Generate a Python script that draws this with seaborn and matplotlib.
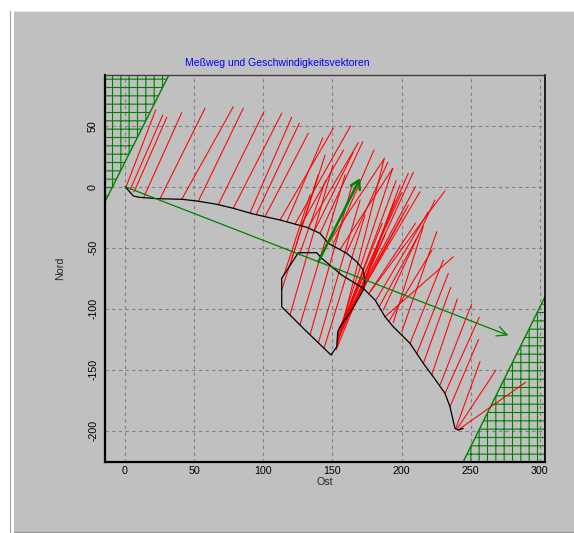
import matplotlib
matplotlib.use('Agg')
import matplotlib.pyplot as plt
import seaborn as sns
from matplotlib.patches import Rectangle
from matplotlib.lines import Line2D

# Messweg (Ost, Nord) in m
track_x = [0, 6.0, 10.3, 23.0, 41.0, 51.8, 66.3, 78.3, 92.8, 112.1, 131.4, 141.0,
           147.0, 160.3, 167.5, 172.3, 173.5, 172.3, 163.9, 155.5, 153.8, 153.1,
           148.9, 130.1, 113.3, 113.3, 125.3, 138.6, 142.2, 156.7, 172.3, 180.8,
           188.0, 194.0, 206.1, 210.9, 215.7, 222.9, 231.4, 235.0, 238.6, 241.0, 244.6]
track_y = [0, -7.6, -8.7, -9.8, -10.3, -11.7, -14.4, -17.7, -22.4, -27.3, -33.3, -38.2,
           -46.4, -54.6, -61.5, -68.3, -79.3, -84.7, -101.1, -114.8, -118.9, -131.2,
           -137.9, -117.4, -98.4, -75.1, -54.1, -54.1, -58.7, -72.4, -83.3, -92.9,
           -106.6, -114.8, -128.4, -136.6, -144.8, -155.8, -169.4, -180.4, -198.1, -199.5, -198.1]

# Geschwindigkeitsvektoren: Fusspunkt und Spitze
vec_x0 = [0.7, 3.6, 6.5, 13.7, 25.3, 41.0, 53.0, 67.5, 78.3, 90.4, 101.2, 112.1, 122.9,
          132.3, 141.0, 147.0, 155.5, 95.0, 117.0, 127.0, 137.0, 150.0, 160.0,
          113.3, 119.3, 126.5, 133.8, 139.8, 143.9, 119.0, 115.0, 126.0,
          153.3, 154.0, 156.2, 159.1, 166.3, 169.9, 152.6, 154.0, 156.9, 173.5, 177.2, 181.5, 188.0,
          153.5, 155.0, 160.0, 164.0, 158.0, 170.0, 153.2, 176.0, 184.0, 191.0,
          186.8, 194.0, 200.1, 206.1, 210.9, 215.7, 221.8, 227.8, 231.4, 235.0, 239.3, 240.1, 240.8]
vec_y0 = [-0.2, -2.7, -4.3, -8.2, -9.8, -10.3, -11.9, -14.6, -17.7, -21.5, -24.6, -27.3, -30.7,
          -33.8, -38.2, -46.4, -51.5, -22.5, -28.9, -32.0, -36.0, -48.5, -54.6,
          -84.7, -105.0, -113.2, -121.4, -128.0, -132.5, -65.1, -72.1, -56.0,
          -130.6, -121.6, -115.8, -110.9, -97.0, -88.8, -133.8, -125.7, -117.5, -80.6, -86.3, -92.9, -106.6,
          -125.0, -116.0, -106.0, -101.0, -109.0, -86.0, -128.0, -88.0, -98.0, -110.0,
          -101.1, -111.5, -118.9, -128.4, -137.1, -144.8, -154.3, -162.5, -169.3, -180.3, -197.8, -198.6, -199.4]
vec_x1 = [22.2, 27.3, 30.2, 41.0, 57.8, 78.3, 85.5, 100.5, 113.3, 120.5, 132.5, 150.6, 163.2,
          168.7, 171.9, 187.3, 193.6, 126.0, 143.0, 158.0, 165.0, 180.0, 190.0,
          144.6, 150.4, 159.1, 164.2, 170.0, 173.5, 139.6, 133.8, 145.0,
          187.5, 193.6, 204.8, 208.5, 198.8, 195.2, 178.6, 182.9, 188.0, 213.3, 231.4, 219.3, 237.4,
          196.0, 200.0, 210.0, 205.0, 186.0, 200.0, 172.0, 210.0, 212.0, 222.0,
          224.1, 215.7, 225.4, 230.2, 233.8, 235.5, 240.3, 250.7, 256.2, 255.7, 256.7, 268.3, 289.7]
vec_y1 = [63.0, 58.8, 56.9, 60.7, 64.3, 65.6, 64.3, 61.5, 60.2, 56.9, 43.8, 47.9, 50.0,
          36.1, 36.9, 22.7, 15.1, 52.0, 40.0, 30.0, 28.0, 30.0, 20.0,
          25.8, 17.8, 9.6, 1.4, -10.9, -23.4, 9.6, -6.8, 5.0,
          23.3, 15.1, 11.0, 11.8, 1.4, -10.9, -61.7, -51.9, -39.6, -4.1, -3.3, -20.5, -57.4,
          5.0, -5.0, 0.0, -15.0, -30.0, -25.0, -70.0, -30.0, -40.0, -52.0,
          -10.9, -32.5, -36.9, -60.1, -71.0, -82.5, -92.0, -96.1, -107.0, -125.1, -143.4, -150.2, -160.3]

# Ufer (schraffiert)
bank_nw_x = [-14.5, 31.8, -14.5]
bank_nw_y = [-12.3, 91.8, 91.8]
bank_se_x = [303.7, 244.6, 303.7]
bank_se_y = [-90.2, -225.4, -225.4]

# mittlere Stroemung und Gesamtversatz
mean_vec = [139.8, -61.5, 170.0, 7.0]
drift_vec = [0, 0, 277.2, -121.9]

x_ticks = [0, 50, 100, 150, 200, 250, 300]
y_ticks = [-200, -150, -100, -50, 0, 50]

sns.set_theme(style='white')
plt.rcParams['font.family'] = ['Liberation Sans', 'DejaVu Sans']
plt.rcParams['axes.unicode_minus'] = False
plt.rcParams['hatch.color'] = '#008000'
plt.rcParams['hatch.linewidth'] = 0.8

bg = '#c0c0c0'
fig = plt.figure(figsize=(5.74, 5.33), dpi=100, facecolor=bg)

# window chrome
fig.patches.append(Rectangle((0, 1 - 11 / 533), 1, 11 / 533, transform=fig.transFigure,
                             facecolor='white', edgecolor='none', zorder=-5))
fig.patches.append(Rectangle((0, 0), 14 / 574, 1, transform=fig.transFigure,
                             facecolor='white', edgecolor='none', zorder=-5))
fig.lines.append(Line2D([9.5 / 574, 9.5 / 574], [0, 1 - 11 / 533], transform=fig.transFigure,
                        color='#a0a0a0', lw=0.8))
fig.lines.append(Line2D([14 / 574, 1], [1 - 11 / 533, 1 - 11 / 533], transform=fig.transFigure,
                        color='#e8e8e8', lw=0.8))
fig.lines.append(Line2D([14 / 574, 1], [1.5 / 533, 1.5 / 533], transform=fig.transFigure,
                        color='#909090', lw=0.8))

ax = fig.add_axes([105 / 574, 1 - 461.7 / 533, 440 / 574, 387 / 533])
ax.set_facecolor(bg)

ax.fill(bank_nw_x, bank_nw_y, facecolor='none', edgecolor='#008000', hatch='++', lw=1)
ax.fill(bank_se_x, bank_se_y, facecolor='none', edgecolor='#008000', hatch='++', lw=1)

for x0, y0, x1, y1 in zip(vec_x0, vec_y0, vec_x1, vec_y1):
    ax.plot([x0, x1], [y0, y1], color='#ff0000', lw=0.75)

sns.lineplot(x=track_x, y=track_y, sort=False, estimator=None, color='black', lw=0.9, ax=ax)

ax.annotate('', xy=(drift_vec[2], drift_vec[3]), xytext=(drift_vec[0], drift_vec[1]),
            arrowprops=dict(arrowstyle='->,head_length=0.6,head_width=0.3', color='#008000',
                            lw=0.9, shrinkA=0, shrinkB=0))
ax.annotate('', xy=(mean_vec[2], mean_vec[3]), xytext=(mean_vec[0], mean_vec[1]),
            arrowprops=dict(arrowstyle='->,head_length=0.5,head_width=0.3', color='#008000',
                            lw=1.8, shrinkA=0, shrinkB=0))

ax.set_xlim(-14.5, 303.7)
ax.set_ylim(-225.4, 91.8)
ax.set_xticks(x_ticks)
ax.set_yticks(y_ticks)
ax.set_axisbelow(True)
ax.grid(True, color='#808080', linestyle=(0, (3, 3)), lw=0.8)

ax.tick_params(length=0, labelsize=7.7, colors='black')
ax.tick_params(axis='x', pad=3)
ax.tick_params(axis='y', pad=5)
for lab in ax.get_yticklabels():
    lab.set_rotation(90)
    lab.set_va('center')

for side, lw, col in [('left', 1.6, 'black'), ('bottom', 1.6, 'black'),
                      ('top', 1.0, '#404040'), ('right', 1.2, 'black')]:
    ax.spines[side].set_linewidth(lw)
    ax.spines[side].set_color(col)

ax.set_xlabel('Ost', fontsize=7.7)
ax.set_ylabel('Nord', fontsize=7.7)
ax.xaxis.set_label_coords(0.5, (461.7 - 481.7) / 387)
ax.yaxis.set_label_coords((60 - 105) / 440, 0.5)
ax.xaxis.label.set_va('center')
ax.yaxis.label.set_va('center')

fig.text(277.5 / 574, 1 - 63.3 / 533, 'Meßweg und Geschwindigkeitsvektoren', color='#0000ff',
         fontsize=7.5, ha='center', va='center')

fig.savefig('out.png', dpi=100, facecolor=fig.get_facecolor())
